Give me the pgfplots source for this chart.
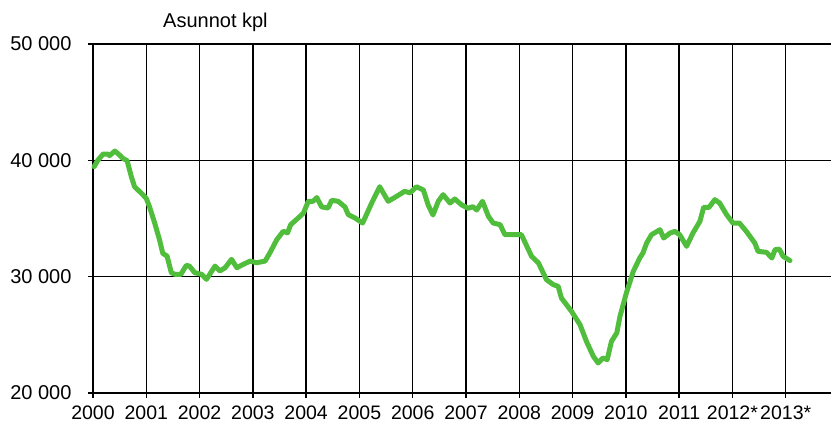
\documentclass[border=0pt]{standalone}
\usepackage{pgfplots}
\pgfplotsset{compat=1.18}
\usepackage{fontspec}
\setmainfont{Liberation Sans}
\definecolor{linegreen}{RGB}{80,190,60}
\begin{document}
\begin{tikzpicture}
\begin{axis}[
  scale only axis,
  width=738bp, height=349bp,
  xmin=2000, xmax=2013.85,
  ymin=20000, ymax=50000,
  scaled y ticks=false,
  scaled x ticks=false,
  axis lines=left,
  axis line style={-, black, line width=1.3bp},
  xtick={2000,2001,2002,2003,2004,2005,2006,2007,2008,2009,2010,2011,2012,2013},
  xticklabels={2000,2001,2002,2003,2004,2005,2006,2007,2008,2009,2010,2011,2012*,2013*},
  ytick={20000,30000,40000,50000},
  yticklabels={20 000,30 000,40 000,50 000},
  tick align=outside,
  major tick length=5bp,
  tick style={black, line width=1.3bp},
  grid=major,
  major grid style={black, line width=1.3bp},
  ticklabel style={font=\fontsize{19.5bp}{22bp}\selectfont},
  yticklabel style={xshift=-13bp, font=\fontsize{20bp}{22bp}\selectfont},
  xticklabel style={yshift=-4bp},
  clip=false,
]
\addplot[linegreen, line width=5bp, line join=round, line cap=round] coordinates {
(2000.02,39450) (2000.09,40000) (2000.19,40540) (2000.28,40540) (2000.31,40400)
(2000.41,40800) (2000.50,40450) (2000.56,40170) (2000.64,39970) (2000.72,38590)
(2000.78,37730) (2000.91,37160) (2001.00,36730) (2001.06,36010) (2001.16,34580)
(2001.25,33140) (2001.31,32000) (2001.39,31770) (2001.47,30340) (2001.54,30200)
(2001.65,30200) (2001.75,30970) (2001.81,30910) (2001.91,30340) (2002.04,30200)
(2002.13,29770) (2002.29,30910) (2002.38,30490) (2002.48,30770) (2002.60,31490)
(2002.70,30770) (2002.82,31060) (2002.95,31340) (2003.07,31200) (2003.23,31340)
(2003.32,32050) (2003.45,33190) (2003.57,33900) (2003.65,33760) (2003.71,34470)
(2003.85,35040) (2003.95,35470) (2004.04,36480) (2004.13,36480) (2004.20,36800)
(2004.29,36000) (2004.41,35900) (2004.48,36560) (2004.60,36480) (2004.73,35990)
(2004.79,35330) (2004.92,35040) (2005.06,34610) (2005.23,36330) (2005.38,37730)
(2005.54,36480) (2005.70,36910) (2005.85,37340) (2005.95,37200) (2006.07,37730)
(2006.20,37450) (2006.29,36160) (2006.38,35300) (2006.48,36480) (2006.57,37050)
(2006.70,36330) (2006.79,36680) (2006.92,36160) (2007.04,35880) (2007.13,36020)
(2007.20,35730) (2007.31,36480) (2007.42,35190) (2007.51,34610) (2007.64,34470)
(2007.73,33610) (2008.04,33610) (2008.23,31750) (2008.36,31180) (2008.51,29740)
(2008.64,29310) (2008.73,29170) (2008.79,28170) (2008.98,27020) (2009.14,25870)
(2009.26,24440) (2009.39,23150) (2009.48,22580) (2009.57,23010) (2009.65,22870)
(2009.73,24440) (2009.83,25160) (2009.89,26590) (2010.01,28600) (2010.14,30460)
(2010.26,31600) (2010.32,32030) (2010.39,32890) (2010.48,33600) (2010.64,34040)
(2010.71,33320) (2010.83,33750) (2010.92,33890) (2011.01,33610) (2011.14,32610)
(2011.26,33760) (2011.39,34760) (2011.46,35960) (2011.56,35960) (2011.67,36620)
(2011.76,36330) (2011.89,35330) (2012.01,34610) (2012.13,34610) (2012.26,33900)
(2012.42,32890) (2012.48,32180) (2012.64,32090) (2012.74,31600) (2012.80,32320)
(2012.88,32370) (2012.95,31750) (2013.08,31380)
};
\end{axis}
\node[anchor=base west, font=\fontsize{20bp}{24bp}\selectfont, inner sep=0pt] at (70bp,365bp) {Asunnot kpl};
\path (-93bp,-36bp) rectangle (741bp,393bp);
\end{tikzpicture}
\end{document}
